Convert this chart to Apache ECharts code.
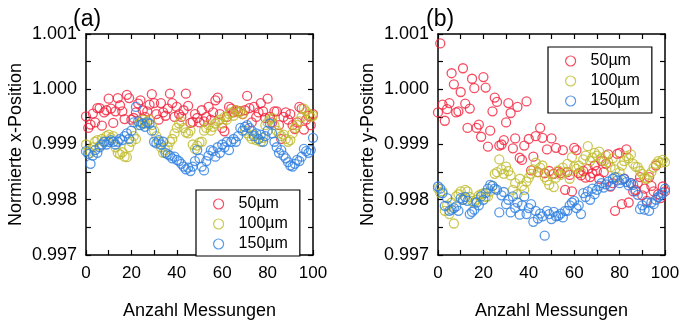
<!DOCTYPE html>
<html>
<head>
<meta charset="utf-8">
<script src="https://cdn.jsdelivr.net/npm/echarts@6/dist/echarts.min.js"></script>
<style>
html,body{margin:0;padding:0;background:#fff;}
#c{width:683px;height:325px;}
</style>
</head>
<body>
<div id="c"></div>
<script>
const seriesNames = ['50µm', '100µm', '150µm'];
const colors = ['#F2223C', '#BFBC2C', '#2F7FE0'];
const panelLabels = ['(a)', '(b)'];
const yTitles = ['Normierte x-Position', 'Normierte y-Position'];
const xTitle = 'Anzahl Messungen';

// Panel (a): normalized x-position, measurements 0..100
const a50 = [0.99951,0.99930,0.99936,0.99956,0.99940,0.99966,0.99966,0.99934,0.99958,0.99962,
0.99983,0.99965,0.99939,0.99960,0.99984,0.99971,0.99960,0.99946,0.99990,0.99984,
0.99945,0.99948,0.99958,0.99974,0.99980,0.99962,0.99950,0.99960,0.99972,0.99991,
0.99975,0.99955,0.99945,0.99975,0.99958,0.99952,0.99965,0.99992,0.99975,0.99950,
0.99968,0.99955,0.99950,0.99962,0.99992,0.99970,0.99939,0.99941,0.99955,0.99948,
0.99940,0.99962,0.99942,0.99950,0.99968,0.99945,0.99958,0.99980,0.99985,0.99955,
0.99930,0.99924,0.99950,0.99968,0.99965,0.99958,0.99962,0.99960,0.99960,0.99955,
0.99962,0.99988,0.99966,0.99940,0.99968,0.99950,0.99958,0.99975,0.99960,0.99948,
0.99983,0.99950,0.99940,0.99960,0.99960,0.99935,0.99910,0.99950,0.99958,0.99945,
0.99955,0.99935,0.99928,0.99940,0.99968,0.99965,0.99927,0.99945,0.99952,0.99935,0.99955];
const a100 = [0.99900,0.99888,0.99885,0.99895,0.99905,0.99908,0.99898,0.99910,0.99905,0.99915,
0.99918,0.99912,0.99915,0.99895,0.99885,0.99882,0.99886,0.99878,0.99877,0.99895,
0.99905,0.99915,0.99910,0.99935,0.99940,0.99945,0.99938,0.99942,0.99945,0.99935,
0.99925,0.99915,0.99905,0.99895,0.99885,0.99890,0.99895,0.99905,0.99910,0.99920,
0.99930,0.99938,0.99942,0.99930,0.99922,0.99920,0.99925,0.99900,0.99892,0.99898,
0.99904,0.99905,0.99925,0.99930,0.99935,0.99925,0.99932,0.99938,0.99942,0.99945,
0.99938,0.99950,0.99945,0.99955,0.99958,0.99952,0.99962,0.99958,0.99960,0.99955,
0.99925,0.99920,0.99915,0.99910,0.99918,0.99908,0.99910,0.99905,0.99912,0.99935,
0.99940,0.99945,0.99948,0.99935,0.99925,0.99920,0.99915,0.99918,0.99910,0.99905,
0.99908,0.99920,0.99930,0.99935,0.99942,0.99950,0.99965,0.99960,0.99955,0.99950,0.99952];
const a150 = [0.99888,0.99883,0.99865,0.99880,0.99890,0.99885,0.99895,0.99900,0.99905,0.99900,
0.99905,0.99908,0.99905,0.99900,0.99905,0.99910,0.99908,0.99915,0.99920,0.99910,
0.99925,0.99940,0.99968,0.99942,0.99935,0.99938,0.99932,0.99940,0.99938,0.99925,
0.99905,0.99902,0.99908,0.99900,0.99905,0.99885,0.99882,0.99880,0.99875,0.99878,
0.99872,0.99870,0.99865,0.99860,0.99855,0.99858,0.99852,0.99860,0.99870,0.99890,
0.99875,0.99860,0.99853,0.99870,0.99880,0.99890,0.99888,0.99878,0.99895,0.99885,
0.99900,0.99895,0.99905,0.99890,0.99905,0.99910,0.99905,0.99915,0.99930,0.99925,
0.99932,0.99935,0.99930,0.99925,0.99915,0.99920,0.99910,0.99918,0.99905,0.99915,
0.99925,0.99938,0.99920,0.99905,0.99895,0.99885,0.99890,0.99880,0.99875,0.99868,
0.99862,0.99860,0.99865,0.99872,0.99870,0.99878,0.99892,0.99888,0.99885,0.99890,0.99912];

// Panel (b): normalized y-position, measurements 0..100
const b50 = [0.99958,1.00083,0.99972,0.99943,0.99964,0.99975,1.00029,1.00009,0.99958,0.99960,
0.99995,1.00038,0.99974,0.99930,0.99965,1.00019,1.00002,0.99930,0.99936,0.99914,
1.00022,1.00003,0.99896,0.99925,0.99960,0.99985,0.99977,0.99898,0.99900,0.99908,
0.99940,0.99975,0.99957,0.99893,0.99911,0.99968,0.99876,0.99872,0.99898,0.99978,
0.99910,0.99853,0.99878,0.99915,0.99850,0.99930,0.99912,0.99848,0.99891,0.99852,
0.99911,0.99847,0.99894,0.99851,0.99848,0.99890,0.99818,0.99850,0.99845,0.99815,
0.99894,0.99890,0.99848,0.99844,0.99852,0.99840,0.99856,0.99841,0.99848,0.99862,
0.99852,0.99838,0.99870,0.99850,0.99865,0.99882,0.99824,0.99830,0.99780,0.99883,
0.99885,0.99792,0.99838,0.99891,0.99795,0.99830,0.99815,0.99818,0.99830,0.99841,
0.99808,0.99820,0.99798,0.99841,0.99825,0.99815,0.99862,0.99810,0.99803,0.99824,0.99815];
const b100 = [0.99820,0.99812,0.99815,0.99780,0.99790,0.99774,0.99795,0.99757,0.99806,0.99810,
0.99815,0.99800,0.99818,0.99815,0.99805,0.99798,0.99795,0.99800,0.99808,0.99810,
0.99812,0.99805,0.99806,0.99815,0.99825,0.99847,0.99850,0.99873,0.99855,0.99847,
0.99860,0.99852,0.99844,0.99818,0.99830,0.99810,0.99838,0.99825,0.99818,0.99833,
0.99840,0.99847,0.99855,0.99867,0.99850,0.99858,0.99862,0.99841,0.99835,0.99827,
0.99846,0.99823,0.99840,0.99853,0.99845,0.99858,0.99850,0.99865,0.99838,0.99877,
0.99860,0.99856,0.99862,0.99850,0.99873,0.99880,0.99897,0.99870,0.99876,0.99885,
0.99880,0.99887,0.99875,0.99870,0.99880,0.99868,0.99859,0.99875,0.99855,0.99841,
0.99850,0.99862,0.99870,0.99879,0.99875,0.99882,0.99865,0.99860,0.99859,0.99852,
0.99847,0.99840,0.99838,0.99845,0.99850,0.99858,0.99865,0.99870,0.99867,0.99872,0.99868];
const b150 = [0.99824,0.99820,0.99812,0.99789,0.99803,0.99780,0.99782,0.99785,0.99788,0.99780,
0.99803,0.99800,0.99805,0.99798,0.99774,0.99778,0.99782,0.99795,0.99790,0.99806,
0.99800,0.99812,0.99820,0.99827,0.99825,0.99820,0.99818,0.99777,0.99808,0.99814,
0.99792,0.99800,0.99777,0.99806,0.99785,0.99795,0.99773,0.99790,0.99806,0.99774,
0.99785,0.99792,0.99760,0.99780,0.99766,0.99775,0.99770,0.99735,0.99780,0.99774,
0.99765,0.99778,0.99770,0.99771,0.99775,0.99768,0.99780,0.99780,0.99790,0.99795,
0.99798,0.99785,0.99790,0.99774,0.99812,0.99805,0.99815,0.99800,0.99820,0.99810,
0.99818,0.99825,0.99830,0.99822,0.99828,0.99833,0.99825,0.99838,0.99841,0.99835,
0.99830,0.99836,0.99838,0.99832,0.99826,0.99830,0.99827,0.99815,0.99809,0.99783,
0.99790,0.99782,0.99795,0.99780,0.99795,0.99792,0.99800,0.99805,0.99808,0.99812,0.99820];

const panels = [[a50, a100, a150], [b50, b100, b150]];
const xMin = 0, xMax = 100, xStep = 10;
const yMin = 0.997, yMax = 1.001, yStep = 0.0005;

const FONT = '"Liberation Sans", Arial, sans-serif';
const gridPos = [{left: 86, top: 34, width: 227, height: 229}, {left: 438, top: 34, width: 227, height: 229}];
const legendPos = [{left: 196, top: 190}, {left: 548, top: 47}];

const grids = [], xAxes = [], yAxes = [], series = [], legends = [], titles = [];
const axisLine = {show: true, onZero: false, lineStyle: {color: '#000', width: 1.5}};
const tick = {show: true, inside: true, length: 5, lineStyle: {color: '#000', width: 1.2}};

panels.forEach((sets, p) => {
  grids.push(Object.assign({containLabel: false}, gridPos[p]));
  xAxes.push({type: 'value', gridIndex: p, min: xMin, max: xMax, interval: xStep, position: 'bottom',
    axisLine, axisTick: tick, splitLine: {show: false},
    axisLabel: {fontFamily: FONT, fontSize: 17, color: '#000', margin: 10,
      formatter: v => (Math.round(v) % 20 === 0 ? String(Math.round(v)) : '')},
    name: xTitle, nameLocation: 'middle', nameGap: 47,
    nameTextStyle: {fontFamily: FONT, fontSize: 18, color: '#000'}});
  xAxes.push({type: 'value', gridIndex: p, min: xMin, max: xMax, interval: xStep, position: 'top',
    axisLine, axisTick: tick, axisLabel: {show: false}, splitLine: {show: false}});
  yAxes.push({type: 'value', gridIndex: p, min: yMin, max: yMax, interval: yStep, position: 'left',
    axisLine, axisTick: tick, splitLine: {show: false},
    axisLabel: {fontFamily: FONT, fontSize: 18, color: '#000', margin: 9,
      formatter: v => { const k = Math.round(v * 2000); return k % 2 === 0 ? v.toFixed(3) : ''; }},
    name: yTitles[p], nameLocation: 'middle', nameGap: 61,
    nameTextStyle: {fontFamily: FONT, fontSize: 18, color: '#000'}});
  yAxes.push({type: 'value', gridIndex: p, min: yMin, max: yMax, interval: yStep, position: 'right',
    axisLine, axisTick: tick, axisLabel: {show: false}, splitLine: {show: false}});
  sets.forEach((vals, s) => {
    series.push({
      type: 'scatter', name: seriesNames[s], xAxisIndex: p * 2, yAxisIndex: p * 2,
      symbol: 'circle', symbolSize: 9,
      itemStyle: {color: 'rgba(255,255,255,0)', borderColor: colors[s], borderWidth: 1.3},
      emphasis: {disabled: true},
      data: vals.map((v, i) => [i, v])
    });
  });
  legends.push({
    orient: 'vertical', left: legendPos[p].left, top: legendPos[p].top,
    backgroundColor: '#fff',
    borderColor: '#000', borderWidth: 1.2, padding: [6, 12, 4, 17],
    itemWidth: 10, itemHeight: 10, itemGap: 4, selectedMode: false,
    textStyle: {fontFamily: FONT, fontSize: 16, color: '#000', lineHeight: 16, padding: [0, 0, 0, 10]},
    data: seriesNames.map((n, s) => ({name: n, icon: 'circle',
      itemStyle: {color: 'rgba(255,255,255,0)', borderColor: colors[s], borderWidth: 1.2}}))
  });
  titles.push({text: panelLabels[p], left: p === 0 ? 68 : 421, top: 3,
    textStyle: {fontFamily: FONT, fontSize: 23, fontWeight: 'normal', color: '#000'}});
});

const chart = echarts.init(document.getElementById('c'), null, {renderer: 'canvas'});
chart.setOption({
  animation: false,
  backgroundColor: '#fff',
  title: titles,
  grid: grids,
  xAxis: xAxes,
  yAxis: yAxes,
  legend: legends,
  series: series
});
</script>
</body>
</html>
